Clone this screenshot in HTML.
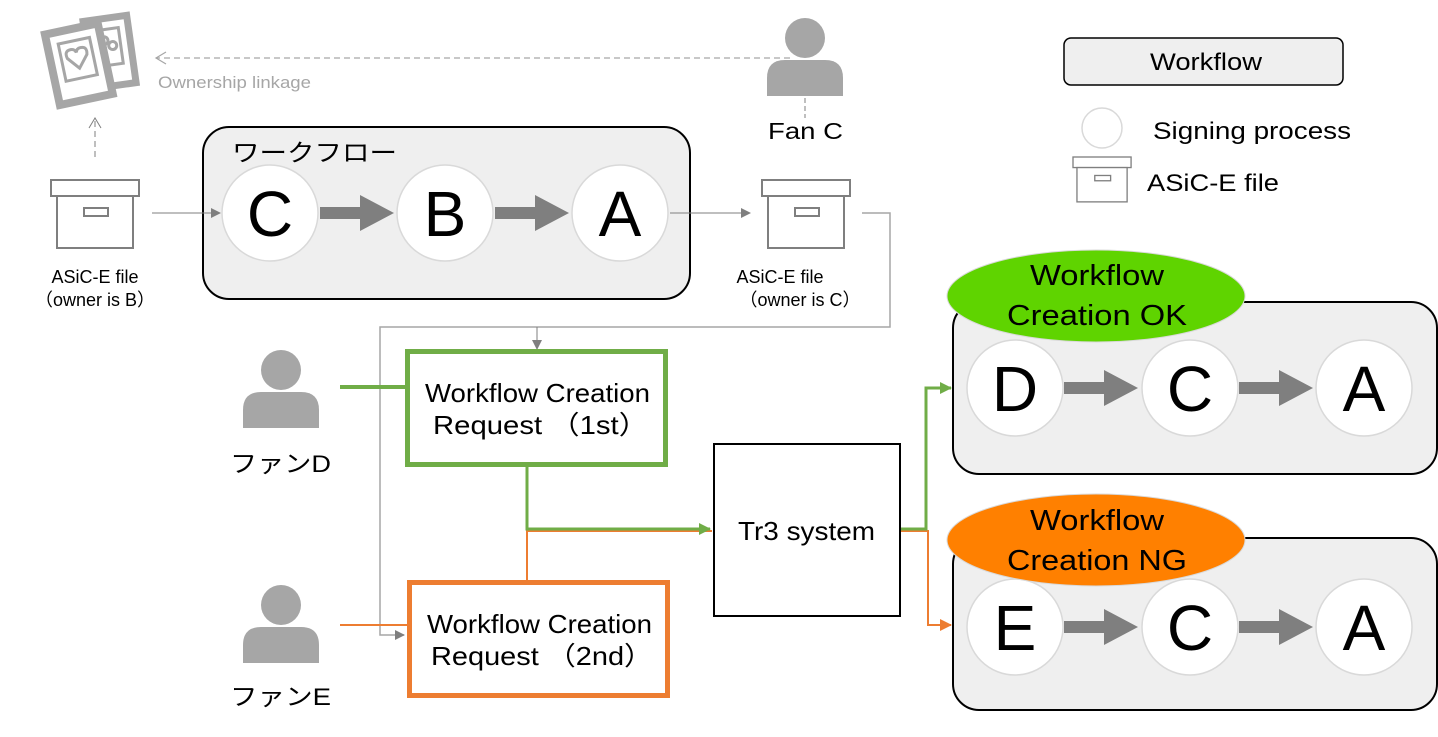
<!DOCTYPE html>
<html><head><meta charset="utf-8"><style>
html,body{margin:0;padding:0;background:#fff}
svg{display:block}
text{font-family:"Liberation Sans","Noto Sans CJK JP",sans-serif}
</style></head><body>
<svg width="1438" height="737" viewBox="0 0 1438 737" xmlns="http://www.w3.org/2000/svg">
<defs>
<marker id="ag" markerWidth="10" markerHeight="10" refX="9" refY="5" orient="auto" markerUnits="userSpaceOnUse"><path d="M0,0 L10,5 L0,10 z" fill="#7f7f7f"/></marker>
<marker id="agr" markerWidth="12" markerHeight="12" refX="11" refY="6" orient="auto" markerUnits="userSpaceOnUse"><path d="M0,0 L12,6 L0,12 z" fill="#70ad47"/></marker>
<marker id="aor" markerWidth="12" markerHeight="12" refX="11" refY="6" orient="auto" markerUnits="userSpaceOnUse"><path d="M0,0 L12,6 L0,12 z" fill="#ed7d31"/></marker>
<g id="big"><rect x="0" y="-6" width="42" height="12" fill="#7f7f7f"/><path d="M40,-18 L74,0 L40,18 z" fill="#7f7f7f"/></g>
<g id="box"><rect x="0" y="0" width="88" height="16" fill="#fff" stroke="#7f7f7f" stroke-width="2"/><rect x="6" y="16" width="76" height="52" fill="#fff" stroke="#7f7f7f" stroke-width="2"/><rect x="33" y="28" width="24" height="8" fill="none" stroke="#7f7f7f" stroke-width="2"/></g>
<g id="person"><circle cx="0" cy="0" r="20" fill="#a6a6a6"/><path d="M-38,58 L-38,40 Q-38,22 -20,22 L20,22 Q38,22 38,40 L38,58 z" fill="#a6a6a6"/></g>
</defs>

<!-- photos icon -->
<g fill="none" stroke="#a6a6a6">
<g transform="rotate(-8 110 55)"><rect x="88" y="18" width="44" height="68" fill="#fff" stroke-width="7"/><rect x="98" y="29" width="24" height="36" stroke-width="3"/><circle cx="106" cy="40" r="4" stroke-width="3"/><circle cx="114" cy="46" r="4" stroke-width="3"/></g>
<g transform="rotate(-12 80 65)"><rect x="52" y="28" width="54" height="72" fill="#fff" stroke-width="8"/><rect x="63" y="40" width="32" height="38" stroke-width="3"/><path d="M79,68 L69,56 Q67,48 74,48 Q78,48 79,52 Q80,48 84,48 Q91,48 89,56 z" stroke-width="3"/></g>
</g>

<!-- ownership linkage -->
<line x1="790" y1="58" x2="156" y2="58" stroke="#a6a6a6" stroke-width="1.2" stroke-dasharray="6,4"/>
<path d="M166,52 L156,58 L166,64" fill="none" stroke="#a6a6a6" stroke-width="1.2"/>
<text x="158" y="88" font-size="17" fill="#a6a6a6" textLength="153" lengthAdjust="spacingAndGlyphs">Ownership linkage</text>
<line x1="95" y1="157" x2="95" y2="119" stroke="#7f7f7f" stroke-width="1" stroke-dasharray="6,4"/>
<path d="M89,128 L95,118 L101,128" fill="none" stroke="#7f7f7f" stroke-width="1"/>

<!-- left box -->
<use href="#box" x="51" y="180"/>
<text x="95" y="283" font-size="18" text-anchor="middle">ASiC-E file</text>
<text x="95" y="306" font-size="18" text-anchor="middle">（owner is B）</text>

<!-- workflow group -->
<rect x="203" y="127" width="487" height="172" rx="26" fill="#efefef" stroke="#000" stroke-width="2"/>
<line x1="152" y1="213" x2="220" y2="213" stroke="#7f7f7f" stroke-width="1" marker-end="url(#ag)"/>
<text x="232" y="161" font-size="24" textLength="165" lengthAdjust="spacingAndGlyphs">ワークフロー</text>
<g stroke="#d9d9d9" stroke-width="1.5" fill="#fff"><circle cx="270" cy="213" r="48"/><circle cx="445" cy="213" r="48"/><circle cx="620" cy="213" r="48"/></g>
<use href="#big" x="320" y="213"/><use href="#big" x="495" y="213"/>
<g font-size="64" text-anchor="middle"><text x="270" y="236">C</text><text x="445" y="236">B</text><text x="620" y="236">A</text></g>
<line x1="670" y1="213" x2="750" y2="213" stroke="#7f7f7f" stroke-width="1" marker-end="url(#ag)"/>

<!-- right box + Fan C -->
<use href="#box" x="762" y="180"/>
<text x="780" y="283" font-size="18" text-anchor="middle">ASiC-E file</text>
<text x="800" y="306" font-size="18" text-anchor="middle">（owner is C）</text>
<use href="#person" x="805" y="38"/>
<line x1="805" y1="98" x2="805" y2="118" stroke="#7f7f7f" stroke-width="1" stroke-dasharray="5,3"/>
<text x="768" y="139" font-size="23" textLength="75" lengthAdjust="spacingAndGlyphs">Fan C</text>

<!-- gray connector -->
<polyline points="862,213 890,213 890,327 380,327 380,635 404,635" fill="none" stroke="#a6a6a6" stroke-width="1.5" marker-end="url(#ag)"/>
<line x1="537" y1="327" x2="537" y2="349" stroke="#7f7f7f" stroke-width="1" marker-end="url(#ag)"/>

<!-- legend -->
<rect x="1064" y="38" width="279" height="47" rx="7" fill="#efefef" stroke="#000" stroke-width="1.5"/>
<text x="1150" y="70" font-size="24" textLength="112" lengthAdjust="spacingAndGlyphs">Workflow</text>
<circle cx="1102" cy="128" r="20" fill="#fff" stroke="#d9d9d9" stroke-width="1.5"/>
<text x="1153" y="139" font-size="24" textLength="198" lengthAdjust="spacingAndGlyphs">Signing process</text>
<g transform="translate(1073,157) scale(0.66)"><use href="#box"/></g>
<text x="1147" y="191" font-size="24" textLength="132" lengthAdjust="spacingAndGlyphs">ASiC-E file</text>

<!-- persons D E -->
<use href="#person" x="281" y="370"/>
<text x="230" y="472" font-size="24" textLength="101" lengthAdjust="spacingAndGlyphs">ファンD</text>
<use href="#person" x="281" y="605"/>
<text x="230" y="705" font-size="24" textLength="101" lengthAdjust="spacingAndGlyphs">ファンE</text>

<line x1="340" y1="387" x2="405" y2="387" stroke="#70ad47" stroke-width="4"/>
<line x1="340" y1="625" x2="407" y2="625" stroke="#ed7d31" stroke-width="2"/>

<!-- green/orange flow -->
<polyline points="527,580 527,531 712,531" fill="none" stroke="#ed7d31" stroke-width="2"/>
<polyline points="527,467 527,529 710,529" fill="none" stroke="#70ad47" stroke-width="3" marker-end="url(#agr)"/>
<polyline points="900,531 928,531 928,625 951,625" fill="none" stroke="#ed7d31" stroke-width="2" marker-end="url(#aor)"/>
<polyline points="900,529 926,529 926,388 951,388" fill="none" stroke="#70ad47" stroke-width="3" marker-end="url(#agr)"/>

<rect x="407.5" y="351.5" width="258" height="113" fill="#fff" stroke="#70ad47" stroke-width="5"/>
<text x="425" y="402" font-size="26" textLength="225" lengthAdjust="spacingAndGlyphs">Workflow Creation</text>
<text x="433" y="434" font-size="26" textLength="215" lengthAdjust="spacingAndGlyphs">Request （1st）</text>
<rect x="409.5" y="582.5" width="258" height="113" fill="#fff" stroke="#ed7d31" stroke-width="5"/>
<text x="427" y="633" font-size="26" textLength="225" lengthAdjust="spacingAndGlyphs">Workflow Creation</text>
<text x="431" y="665" font-size="26" textLength="222" lengthAdjust="spacingAndGlyphs">Request （2nd）</text>

<rect x="714" y="444" width="186" height="172" fill="#fff" stroke="#000" stroke-width="2"/>
<text x="738" y="540" font-size="26" textLength="137" lengthAdjust="spacingAndGlyphs">Tr3 system</text>

<!-- right groups -->
<rect x="953" y="302" width="484" height="172" rx="26" fill="#efefef" stroke="#000" stroke-width="2"/>
<g stroke="#d9d9d9" stroke-width="1.5" fill="#fff"><circle cx="1015" cy="388" r="48"/><circle cx="1190" cy="388" r="48"/><circle cx="1364" cy="388" r="48"/></g>
<use href="#big" x="1064" y="388"/><use href="#big" x="1239" y="388"/>
<g font-size="64" text-anchor="middle"><text x="1015" y="411">D</text><text x="1190" y="411">C</text><text x="1364" y="411">A</text></g>
<ellipse cx="1096" cy="296" rx="149" ry="46" fill="#5fd400" stroke="#d9d9d9" stroke-width="1"/>
<text x="1030" y="285" font-size="29" textLength="134" lengthAdjust="spacingAndGlyphs">Workflow</text>
<text x="1007" y="325" font-size="29" textLength="180" lengthAdjust="spacingAndGlyphs">Creation  OK</text>

<rect x="953" y="538" width="484" height="172" rx="26" fill="#efefef" stroke="#000" stroke-width="2"/>
<g stroke="#d9d9d9" stroke-width="1.5" fill="#fff"><circle cx="1015" cy="627" r="48"/><circle cx="1190" cy="627" r="48"/><circle cx="1364" cy="627" r="48"/></g>
<use href="#big" x="1064" y="627"/><use href="#big" x="1239" y="627"/>
<g font-size="64" text-anchor="middle"><text x="1015" y="650">E</text><text x="1190" y="650">C</text><text x="1364" y="650">A</text></g>
<ellipse cx="1096" cy="540" rx="149" ry="46" fill="#ff8000" stroke="#d9d9d9" stroke-width="1"/>
<text x="1030" y="530" font-size="29" textLength="134" lengthAdjust="spacingAndGlyphs">Workflow</text>
<text x="1007" y="570" font-size="29" textLength="180" lengthAdjust="spacingAndGlyphs">Creation  NG</text>
</svg>
</body></html>
